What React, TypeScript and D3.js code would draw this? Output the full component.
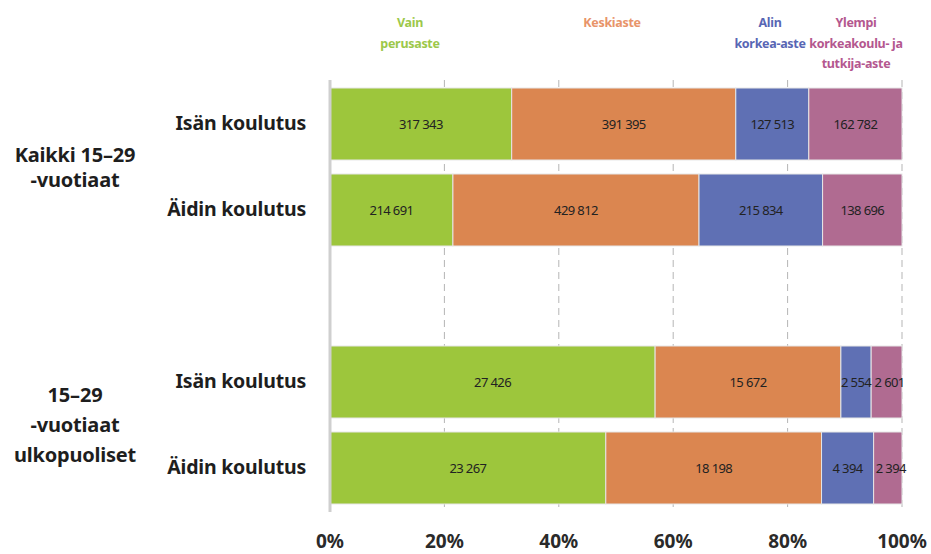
import React, { useEffect, useRef } from 'react';
import * as d3 from 'd3';

// rows (top to bottom)
const rowLabels = ['Isän koulutus', 'Äidin koulutus', 'Isän koulutus', 'Äidin koulutus'];
const groupLabels = [['Kaikki 15–29', '-vuotiaat'], ['15–29', '-vuotiaat', 'ulkopuoliset']];

// series values, one entry per row
const vainPerusaste = [317343, 214691, 27426, 23267];
const keskiaste = [391395, 429812, 15672, 18198];
const alinKorkea = [127513, 215834, 2554, 4394];
const ylempiKorkea = [162782, 138696, 2601, 2394];

const seriesNames = [['Vain', 'perusaste'], ['Keskiaste'], ['Alin', 'korkea-aste'], ['Ylempi', 'korkeakoulu- ja', 'tutkija-aste']];
const barColors = ['#9dc63c', '#db8650', '#5f70b4', '#b06b91'];
const legendColors = ['#9cc84a', '#e8946a', '#5866b4', '#b4578f'];
const ticks = [0, 0.2, 0.4, 0.6, 0.8, 1];

const W = 931;
const H = 554;
const FONT = '"Noto Sans", sans-serif';

function App() {
  const ref = useRef<SVGSVGElement | null>(null);

  useEffect(() => {
    document.body.style.margin = '0';
    const svg = d3.select(ref.current);
    svg.selectAll('*').remove();

    const allSeries = [vainPerusaste, keskiaste, alinKorkea, ylempiKorkea];
    const rows = rowLabels.map((_, i) => {
      const vals = allSeries.map(s => s[i]);
      const total = d3.sum(vals);
      let acc = 0;
      return vals.map((v, k) => {
        const x0 = acc / total;
        acc += v;
        return { k, v, x0, x1: acc / total };
      });
    });

    const x = d3.scaleLinear().domain([0, 1]).range([330, 902]);
    const slots = ['r0', 'r1', 'gap', 'r2', 'r3'];
    const y = d3.scaleBand<string>().domain(slots).range([81, 511]).paddingInner(0.163).paddingOuter(0.0815);
    const rowKey = ['r0', 'r1', 'r2', 'r3'];

    const fmt = d3.formatLocale({ decimal: ',', thousands: '\u00a0', grouping: [3], currency: ['', '€'] }).format(',d');

    // gridlines
    svg.append('g')
      .selectAll('line')
      .data(ticks.slice(1))
      .join('line')
      .attr('x1', d => x(d)).attr('x2', d => x(d))
      .attr('y1', 80).attr('y2', 512)
      .attr('stroke', '#b5b5b5')
      .attr('stroke-width', 1)
      .attr('stroke-dasharray', '7,5');

    // bars
    rows.forEach((segs, i) => {
      const g = svg.append('g');
      const y0 = y(rowKey[i]) as number;
      const bh = y.bandwidth();
      g.selectAll('rect')
        .data(segs)
        .join('rect')
        .attr('x', d => x(d.x0))
        .attr('y', y0)
        .attr('width', d => x(d.x1) - x(d.x0))
        .attr('height', bh)
        .attr('fill', d => barColors[d.k])
        .attr('stroke', '#e6e6e6')
        .attr('stroke-width', 1);
      g.selectAll('text')
        .data(segs)
        .join('text')
        .attr('x', d => (x(d.x0) + x(d.x1)) / 2 + (d.k === 3 && i >= 2 ? 3 : 0))
        .attr('y', y0 + bh / 2 + 4.5)
        .attr('text-anchor', 'middle')
        .attr('font-family', FONT)
        .attr('font-size', 13)
        .attr('letter-spacing', -0.6)
        .attr('fill', '#222')
        .text(d => fmt(d.v));

      // row label
      svg.append('text')
        .attr('x', 306)
        .attr('y', y0 + bh / 2 + 6)
        .attr('text-anchor', 'end')
        .attr('font-family', FONT)
        .attr('font-weight', 'bold')
        .attr('font-size', 19.5)
        .attr('letter-spacing', -0.2)
        .attr('fill', '#1e1e1e')
        .text(rowLabels[i]);
    });

    // left axis line
    svg.append('line')
      .attr('x1', 330).attr('x2', 330)
      .attr('y1', 80).attr('y2', 512)
      .attr('stroke', '#cfcfcf')
      .attr('stroke-width', 3);

    // group labels
    const groupCenters = [
      ((y('r0') as number) + (y('r1') as number) + y.bandwidth()) / 2,
      ((y('r2') as number) + (y('r3') as number) + y.bandwidth()) / 2,
    ];
    const groupLineHeights = [25, 30];
    groupLabels.forEach((lines, gi) => {
      const lh = groupLineHeights[gi];
      const top = groupCenters[gi] - ((lines.length - 1) * lh) / 2 + 7;
      lines.forEach((t, li) => {
        svg.append('text')
          .attr('x', 75)
          .attr('y', top + li * lh)
          .attr('text-anchor', 'middle')
          .attr('font-family', FONT)
          .attr('font-weight', 'bold')
          .attr('font-size', 20)
          .attr('letter-spacing', -0.2)
          .attr('fill', '#1e1e1e')
          .text(t);
      });
    });

    // x axis labels
    svg.append('g')
      .selectAll('text')
      .data(ticks)
      .join('text')
      .attr('x', d => x(d))
      .attr('y', 548)
      .attr('text-anchor', 'middle')
      .attr('font-family', FONT)
      .attr('font-weight', 'bold')
      .attr('font-size', 19)
      .attr('fill', '#2a2a2a')
      .text(d => d3.format('.0%')(d));

    // legend
    const legendX = [410, 612, 770, 856];
    seriesNames.forEach((lines, k) => {
      lines.forEach((t, li) => {
        svg.append('text')
          .attr('x', legendX[k])
          .attr('y', 27 + li * 20.5)
          .attr('text-anchor', 'middle')
          .attr('font-family', FONT)
          .attr('font-weight', 'bold')
          .attr('font-size', 12.5)
          .attr('letter-spacing', -0.3)
          .attr('fill', legendColors[k])
          .text(t);
      });
    });
  }, []);

  return <svg ref={ref} width={W} height={H} style={{ display: 'block', background: '#fff' }} />;
}

export default App;
